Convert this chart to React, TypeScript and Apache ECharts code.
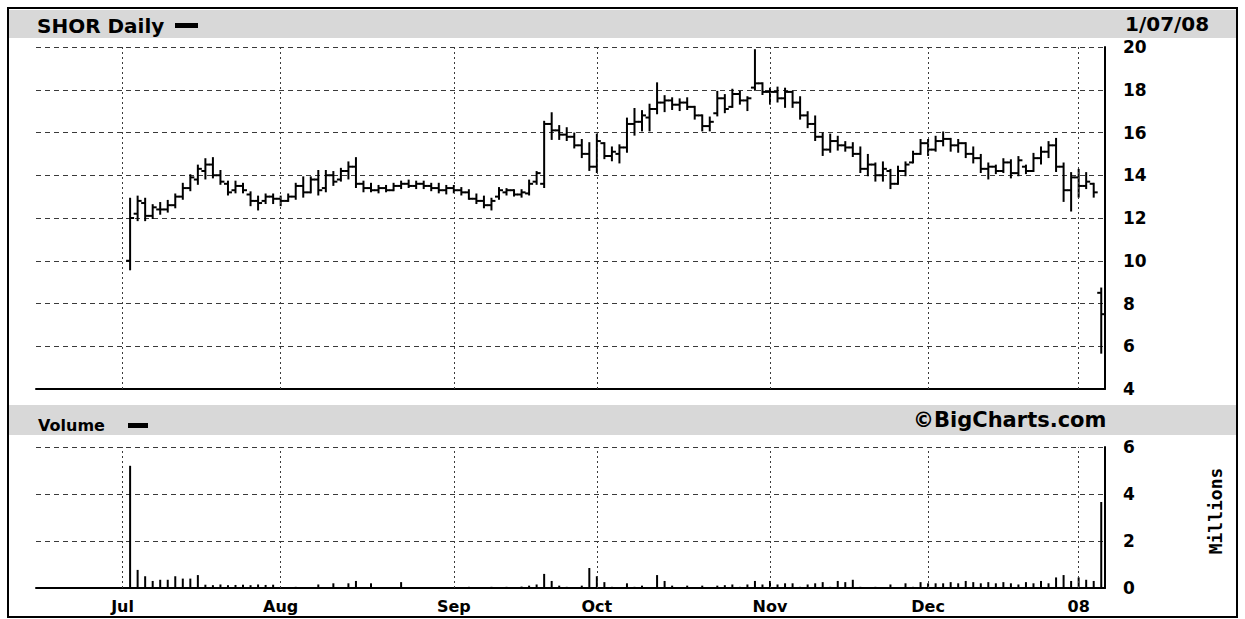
import React, { useEffect, useRef } from "react";
import * as echarts from "echarts";

// Trading days shown on the time axis (axis starts mid-June 2007, data from the Jul 3 IPO)
const juneDays = [15, 18, 19, 20, 21, 22, 25, 26, 27, 28, 29];
const julyDays = [2, 3, 5, 6, 9, 10, 11, 12, 13, 16, 17, 18, 19, 20, 23, 24, 25, 26, 27, 30, 31];
const augDays = [1, 2, 3, 6, 7, 8, 9, 10, 13, 14, 15, 16, 17, 20, 21, 22, 23, 24, 27, 28, 29, 30, 31];
const sepDays = [4, 5, 6, 7, 10, 11, 12, 13, 14, 17, 18, 19, 20, 21, 24, 25, 26, 27, 28];
const octDays = [1, 2, 3, 4, 5, 8, 9, 10, 11, 12, 15, 16, 17, 18, 19, 22, 23, 24, 25, 26, 29, 30, 31];
const novDays = [1, 2, 5, 6, 7, 8, 9, 12, 13, 14, 15, 16, 19, 20, 21, 23, 26, 27, 28, 29, 30];
const decDays = [3, 4, 5, 6, 7, 10, 11, 12, 13, 14, 17, 18, 19, 20, 21, 24, 26, 27, 28, 31];
const janDays = [2, 3, 4, 7];

const monthTickDates = ["2007-07-02", "2007-08-01", "2007-09-04", "2007-10-01", "2007-11-01", "2007-12-03", "2008-01-02"];
const monthTickLabels = ["Jul", "Aug", "Sep", "Oct", "Nov", "Dec", "08"];

const firstDataDate = "2007-07-03";

// Daily OHLC (from Jul 3 2007 to Jan 7 2008)
const priceOpen = [
  10.0, 12.2, 12.7, 12.1, 12.4, 12.4, 12.6, 13.0, 13.4, 13.8,
  14.2, 14.5, 14.0, 13.6, 13.3, 13.5, 13.1, 12.8, 12.8, 13.0,
  12.9, 12.8, 13.0, 13.5, 13.2, 13.8, 13.4, 14.0, 13.8, 14.2,
  14.4, 13.6, 13.4, 13.3, 13.4, 13.3, 13.5, 13.6, 13.5, 13.6,
  13.5, 13.4, 13.3, 13.4, 13.3, 13.2, 12.9, 12.8, 12.6, 13.0,
  13.2, 13.3, 13.1, 13.15, 13.7, 13.6, 16.4, 16.1, 15.9, 15.8,
  15.4, 15.0, 14.4, 15.5, 14.9, 15.0, 15.3, 16.4, 16.5, 16.7,
  17.1, 17.4, 17.5, 17.3, 17.4, 17.2, 16.8, 16.3, 16.9, 17.6,
  17.2, 17.8, 17.5, 18.1, 18.3, 17.9, 17.9, 17.6, 17.9, 17.4,
  16.8, 16.4, 15.8, 15.2, 15.6, 15.4, 15.3, 15.0, 14.3, 14.5,
  14.0, 14.2, 13.6, 14.2, 14.6, 15.0, 15.5, 15.2, 15.6, 15.7,
  15.4, 15.5, 15.0, 14.8, 14.3, 14.4, 14.2, 14.6, 14.1, 14.4,
  14.2, 14.8, 15.1, 15.4, 14.4, 13.3, 13.9, 13.5, 13.6, 8.5,
];
const priceHigh = [
  12.9, 13.0, 12.9, 12.6, 12.7, 12.8, 13.1, 13.6, 14.0, 14.45,
  14.75, 14.8, 14.2, 13.7, 13.7, 13.6, 13.2, 13.0, 13.1, 13.1,
  13.0, 13.1, 13.6, 13.9, 13.9, 14.2, 14.2, 14.15, 14.3, 14.6,
  14.8, 13.7, 13.6, 13.5, 13.5, 13.6, 13.7, 13.75, 13.7, 13.7,
  13.6, 13.6, 13.5, 13.5, 13.4, 13.3, 13.1, 13.0, 12.9, 13.4,
  13.35, 13.3, 13.3, 13.75, 14.15, 16.5, 16.9, 16.3, 16.2, 15.95,
  15.65, 15.5, 15.9, 15.5, 15.3, 15.4, 16.65, 17.1, 17.0, 17.3,
  18.3, 17.7, 17.6, 17.55, 17.6, 17.2, 16.8, 16.7, 17.9, 17.75,
  18.0, 17.9, 17.65, 19.85, 18.3, 18.05, 18.1, 18.05, 17.9, 17.65,
  16.95, 16.75, 15.95, 15.9, 15.8, 15.55, 15.5, 15.3, 14.95, 14.55,
  14.6, 14.25, 14.4, 14.6, 15.1, 15.65, 15.65, 15.8, 16.0, 15.7,
  15.65, 15.5, 15.3, 14.95, 14.55, 14.45, 14.75, 14.7, 14.85, 14.45,
  15.0, 15.3, 15.55, 15.7, 14.55, 14.1, 14.25, 14.1, 13.6, 8.7,
];
const priceLow = [
  9.6, 11.9, 11.9, 12.0, 12.2, 12.3, 12.5, 12.9, 13.3, 13.6,
  13.85, 13.9, 13.6, 13.1, 13.2, 13.2, 12.6, 12.4, 12.7, 12.7,
  12.6, 12.8, 12.9, 13.0, 13.2, 13.1, 13.25, 13.55, 13.75, 13.85,
  13.45, 13.25, 13.25, 13.2, 13.25, 13.3, 13.4, 13.45, 13.4, 13.4,
  13.3, 13.2, 13.15, 13.2, 13.1, 12.9, 12.7, 12.5, 12.4, 12.9,
  13.1, 13.05, 13.0, 13.1, 13.6, 13.45, 15.7, 15.7, 15.65, 15.3,
  14.85, 14.25, 14.15, 14.8, 14.7, 14.6, 15.1, 15.9, 16.1, 16.1,
  16.9, 17.0, 17.1, 17.05, 17.1, 16.65, 16.1, 16.1, 16.8, 16.95,
  17.2, 17.35, 17.05, 18.0, 17.8, 17.35, 17.45, 17.2, 17.2, 16.65,
  16.25, 15.65, 14.95, 15.1, 15.2, 15.15, 14.9, 14.15, 14.0, 13.75,
  13.75, 13.4, 13.6, 14.0, 14.6, 15.0, 14.95, 15.15, 15.4, 15.15,
  15.1, 14.85, 14.6, 14.15, 13.85, 14.1, 14.15, 13.9, 14.0, 14.1,
  14.2, 14.55, 14.85, 14.2, 12.8, 12.35, 13.0, 13.4, 13.0, 5.7,
];
const priceClose = [
  12.0, 12.8, 12.1, 12.5, 12.4, 12.6, 13.0, 13.4, 13.9, 14.3,
  14.5, 14.0, 13.7, 13.2, 13.5, 13.3, 12.8, 12.7, 13.0, 12.9,
  12.8, 13.0, 13.5, 13.2, 13.8, 13.3, 14.0, 13.7, 14.2, 14.4,
  13.6, 13.4, 13.3, 13.4, 13.3, 13.5, 13.6, 13.5, 13.6, 13.5,
  13.4, 13.3, 13.4, 13.3, 13.2, 12.9, 12.8, 12.6, 12.8, 13.3,
  13.3, 13.1, 13.2, 13.6, 14.1, 16.4, 16.1, 15.9, 15.8, 15.4,
  15.0, 14.4, 15.6, 14.9, 15.1, 15.3, 16.4, 16.5, 16.8, 17.1,
  17.4, 17.5, 17.3, 17.4, 17.2, 16.8, 16.3, 16.5, 17.6, 17.1,
  17.8, 17.5, 17.6, 18.3, 17.9, 17.9, 17.6, 17.9, 17.4, 16.8,
  16.4, 15.8, 15.2, 15.6, 15.4, 15.3, 15.0, 14.3, 14.5, 14.0,
  14.3, 13.6, 14.2, 14.5, 15.0, 15.5, 15.2, 15.6, 15.7, 15.4,
  15.5, 15.0, 14.8, 14.3, 14.4, 14.2, 14.6, 14.1, 14.7, 14.2,
  14.8, 15.1, 15.4, 14.4, 13.3, 13.9, 13.5, 13.7, 13.2, 7.5,
];
// Daily volume in millions of shares
const volumeMillions = [
  5.2, 0.77, 0.5, 0.3, 0.35, 0.35, 0.5, 0.4, 0.4, 0.55,
  0.14, 0.12, 0.15, 0.12, 0.13, 0.14, 0.12, 0.15, 0.13, 0.14,
  0.04, 0.03, 0.05, 0.03, 0.04, 0.15, 0.03, 0.2, 0.04, 0.2,
  0.3, 0.04, 0.2, 0.03, 0.04, 0.03, 0.25, 0.03, 0.04, 0.03,
  0.03, 0.04, 0.03, 0.04, 0.03, 0.05, 0.04, 0.03, 0.05, 0.04,
  0.05, 0.04, 0.06, 0.1, 0.15, 0.6, 0.3, 0.1, 0.05, 0.04,
  0.1, 0.85, 0.5, 0.25, 0.05, 0.04, 0.2, 0.05, 0.1, 0.04,
  0.55, 0.3, 0.1, 0.04, 0.1, 0.04, 0.1, 0.04, 0.1, 0.12,
  0.15, 0.05, 0.15, 0.3, 0.15, 0.3, 0.15, 0.2, 0.2, 0.05,
  0.15, 0.2, 0.25, 0.05, 0.3, 0.25, 0.35, 0.05, 0.04, 0.05,
  0.03, 0.15, 0.04, 0.2, 0.05, 0.25, 0.2, 0.2, 0.2, 0.25,
  0.2, 0.3, 0.25, 0.2, 0.25, 0.2, 0.25, 0.2, 0.15, 0.25,
  0.2, 0.3, 0.2, 0.45, 0.55, 0.3, 0.45, 0.35, 0.3, 3.66,
];

const pad = (n: number) => (n < 10 ? "0" + n : "" + n);
const buildDates = (year: number, month: number, days: number[]) =>
  days.map((d) => `${year}-${pad(month)}-${pad(d)}`);

const categories: string[] = [
  ...buildDates(2007, 6, juneDays),
  ...buildDates(2007, 7, julyDays),
  ...buildDates(2007, 8, augDays),
  ...buildDates(2007, 9, sepDays),
  ...buildDates(2007, 10, octDays),
  ...buildDates(2007, 11, novDays),
  ...buildDates(2007, 12, decDays),
  ...buildDates(2008, 1, janDays),
];

export default function App() {
  const ref = useRef<HTMLDivElement>(null);

  useEffect(() => {
    if (!ref.current) return;
    const chart = echarts.init(ref.current, undefined, { renderer: "svg" });

    const start = categories.indexOf(firstDataDate);
    const ohlcData = priceOpen.map((o, i) => [
      categories[start + i],
      o,
      priceHigh[i],
      priceLow[i],
      priceClose[i],
    ]);
    const volData = categories.map((c, i) =>
      i >= start && i - start < volumeMillions.length ? volumeMillions[i - start] : null
    );
    const labelMap: Record<string, string> = {};
    monthTickDates.forEach((d, i) => (labelMap[d] = monthTickLabels[i]));

    const labelFont = {
      color: "#000",
      fontFamily: "DejaVu Sans",
      fontWeight: "bold" as const,
      fontSize: 16,
    };
    const gridLine = { color: "#3a3a3a", width: 1, type: [5, 4] as number[] };
    const vMark = {
      silent: true,
      symbol: "none",
      animation: false,
      label: { show: false },
      lineStyle: { color: "#3a3a3a", width: 1, type: [2, 3] as number[] },
      data: monthTickDates.map((d) => ({ xAxis: d })),
    };

    const option: any = {
      animation: false,
      backgroundColor: "#fff",
      grid: [
        { left: 36, right: 140, top: 47, height: 342 },
        { left: 36, right: 140, top: 447, height: 141 },
      ],
      xAxis: [
        {
          type: "category",
          gridIndex: 0,
          data: categories,
          boundaryGap: true,
          axisLine: { lineStyle: { color: "#000", width: 2 } },
          axisTick: { show: false },
          axisLabel: { show: false },
          splitLine: { show: false },
        },
        {
          type: "category",
          gridIndex: 1,
          data: categories,
          boundaryGap: true,
          axisLine: { lineStyle: { color: "#000", width: 2 } },
          axisTick: { show: false },
          axisLabel: {
            ...labelFont,
            margin: 10,
            interval: (_i: number, v: string) => labelMap[v] !== undefined,
            formatter: (v: string) => labelMap[v] || "",
          },
          splitLine: { show: false },
        },
      ],
      yAxis: [
        {
          type: "value",
          gridIndex: 0,
          position: "right",
          min: 4,
          max: 20,
          interval: 2,
          axisLine: { show: true, lineStyle: { color: "#000", width: 2 } },
          axisTick: { show: false },
          axisLabel: { ...labelFont, fontSize: 17, margin: 18 },
          splitLine: { show: true, lineStyle: gridLine },
        },
        {
          type: "value",
          gridIndex: 1,
          position: "right",
          min: 0,
          max: 6,
          interval: 2,
          axisLine: { show: true, lineStyle: { color: "#000", width: 2 } },
          axisTick: { show: false },
          axisLabel: { ...labelFont, fontSize: 17, margin: 18 },
          splitLine: { show: true, lineStyle: gridLine },
        },
      ],
      series: [
        {
          type: "custom",
          name: "SHOR",
          xAxisIndex: 0,
          yAxisIndex: 0,
          data: ohlcData,
          encode: { x: 0, y: [1, 2, 3, 4] },
          renderItem: (_p: any, api: any) => {
            const x = api.value(0);
            const pO = api.coord([x, api.value(1)]);
            const pH = api.coord([x, api.value(2)]);
            const pL = api.coord([x, api.value(3)]);
            const pC = api.coord([x, api.value(4)]);
            const st = { stroke: "#000", lineWidth: 2 };
            return {
              type: "group",
              children: [
                { type: "line", shape: { x1: pH[0], y1: pH[1] - 1, x2: pL[0], y2: pL[1] + 1 }, style: st },
                { type: "line", shape: { x1: pO[0] - 4, y1: pO[1], x2: pO[0], y2: pO[1] }, style: st },
                { type: "line", shape: { x1: pC[0], y1: pC[1], x2: pC[0] + 4, y2: pC[1] }, style: st },
              ],
            };
          },
          markLine: vMark,
          z: 3,
        },
        {
          type: "bar",
          name: "Volume",
          xAxisIndex: 1,
          yAxisIndex: 1,
          data: volData,
          barWidth: 2,
          itemStyle: { color: "#000" },
          markLine: vMark,
          z: 3,
        },
      ],
      graphic: [
        { type: "rect", shape: { x: 9, y: 10, width: 1227, height: 28 }, style: { fill: "#d8d8d8" }, z: 0 },
        { type: "rect", shape: { x: 9, y: 405, width: 1227, height: 30 }, style: { fill: "#d8d8d8" }, z: 0 },
        {
          type: "text",
          x: 37,
          y: 26,
          style: {
            text: "SHOR Daily",
            font: "bold 20px 'DejaVu Sans'",
            fill: "#000",
            textAlign: "left",
            textVerticalAlign: "middle",
          },
          z: 2,
        },
        { type: "rect", shape: { x: 175, y: 23, width: 23, height: 5 }, style: { fill: "#000" }, z: 2 },
        {
          type: "text",
          x: 1125,
          y: 24,
          style: {
            text: "1/07/08",
            font: "bold 20px 'DejaVu Sans'",
            fill: "#000",
            textAlign: "left",
            textVerticalAlign: "middle",
          },
          z: 2,
        },
        {
          type: "text",
          x: 38,
          y: 425,
          style: {
            text: "Volume",
            font: "bold 16px 'DejaVu Sans'",
            fill: "#000",
            textAlign: "left",
            textVerticalAlign: "middle",
          },
          z: 2,
        },
        { type: "rect", shape: { x: 128, y: 423, width: 20, height: 5 }, style: { fill: "#000" }, z: 2 },
        {
          type: "text",
          x: 913,
          y: 420,
          style: {
            text: "©BigCharts.com",
            font: "bold 21px 'DejaVu Sans'",
            fill: "#000",
            textAlign: "left",
            textVerticalAlign: "middle",
          },
          z: 2,
        },
        {
          type: "text",
          x: 1215,
          y: 511,
          rotation: Math.PI / 2,
          style: {
            text: "Millions",
            font: "bold 18px 'DejaVu Sans Mono'",
            fill: "#000",
            textAlign: "center",
            textVerticalAlign: "middle",
          },
          z: 2,
        },
        {
          type: "rect",
          shape: { x: 8, y: 8, width: 1229, height: 609 },
          style: { fill: "none", stroke: "#000", lineWidth: 2 },
          z: 5,
        },
      ],
    };

    chart.setOption(option);
    return () => chart.dispose();
  }, []);

  return (
    <div
      ref={ref}
      style={{ position: "fixed", left: 0, top: 0, width: 1245, height: 619, background: "#fff" }}
    />
  );
}
